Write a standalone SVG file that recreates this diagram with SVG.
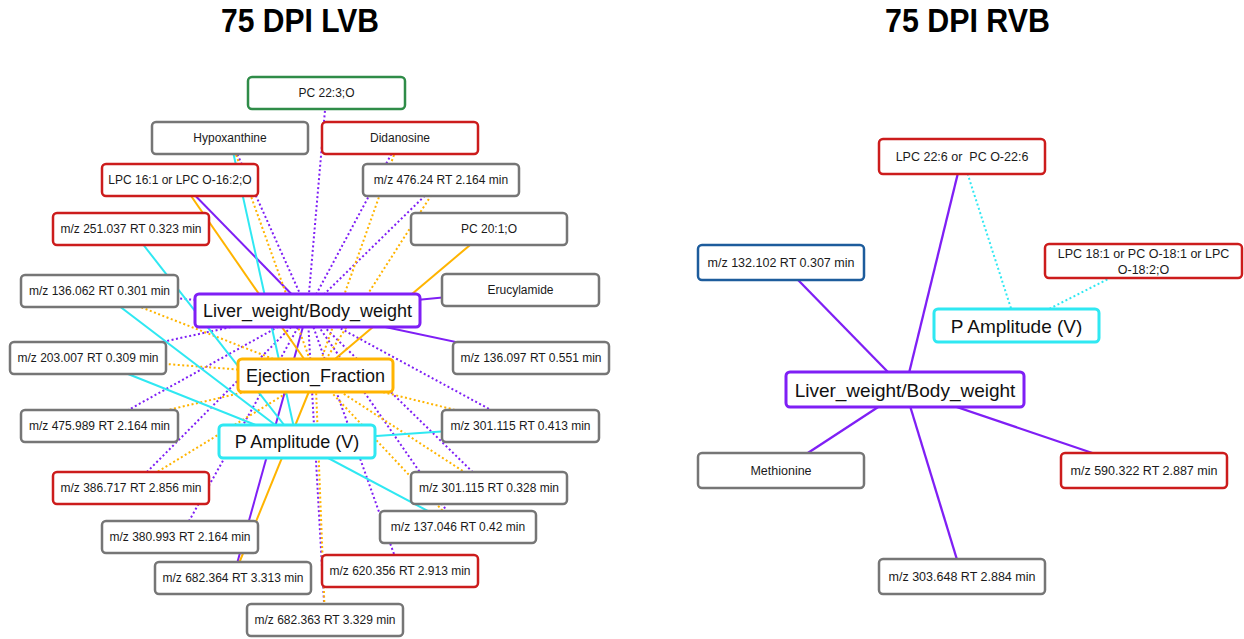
<svg xmlns="http://www.w3.org/2000/svg" width="1244" height="639" viewBox="0 0 1244 639">
<style>
.title{font-family:"Liberation Sans",Arial,sans-serif;font-weight:bold;font-size:33px;fill:#000}
.box{fill:#fff;stroke-width:2.5}
.hub{fill:#fff;stroke-width:3}
.gr{stroke:#767676}
.rd{stroke:#cc1c1c}
.gn{stroke:#2f8c48}
.bl{stroke:#1d5c9c}
.pu{stroke:#7f1ff5}
.or{stroke:#ffb400}
.cy{stroke:#2fe8f2}
.t{font-family:"Liberation Sans",Arial,sans-serif;font-size:12px;fill:#1a1a1a;text-anchor:middle;dominant-baseline:central}
.t2{font-family:"Liberation Sans",Arial,sans-serif;font-size:12.5px;fill:#1a1a1a;text-anchor:middle;dominant-baseline:central}
.ht{font-family:"Liberation Sans",Arial,sans-serif;font-size:18px;fill:#111;text-anchor:middle;dominant-baseline:central}
.ht2{font-family:"Liberation Sans",Arial,sans-serif;font-size:19px;fill:#111;text-anchor:middle;dominant-baseline:central}
.e{fill:none;stroke-width:2}
.d{fill:none;stroke-width:2;stroke-dasharray:2 2.5}
</style>
<text class="title" x="221" y="32" textLength="158" lengthAdjust="spacingAndGlyphs">75 DPI LVB</text>
<text class="title" x="885" y="32" textLength="165" lengthAdjust="spacingAndGlyphs">75 DPI RVB</text>

<g id="connectors">
<g class="pu">
<line class="e" x1="180" y1="180" x2="307.5" y2="310.5"/>
<line class="e" x1="520.5" y1="290" x2="307.5" y2="310.5"/>
<line class="e" x1="531" y1="358" x2="307.5" y2="310.5"/>
<line class="e" x1="233" y1="578" x2="307.5" y2="310.5"/>
<line class="d" x1="326.5" y1="93" x2="307.5" y2="310.5"/>
<line class="d" x1="230" y1="138" x2="307.5" y2="310.5"/>
<line class="d" x1="400" y1="138" x2="307.5" y2="310.5"/>
<line class="d" x1="441" y1="180" x2="307.5" y2="310.5"/>
<line class="d" x1="99.5" y1="291" x2="307.5" y2="310.5"/>
<line class="d" x1="88" y1="358" x2="307.5" y2="310.5"/>
<line class="d" x1="99.5" y1="426" x2="307.5" y2="310.5"/>
<line class="d" x1="520.5" y1="426" x2="307.5" y2="310.5"/>
<line class="d" x1="131" y1="488" x2="307.5" y2="310.5"/>
<line class="d" x1="489" y1="488" x2="307.5" y2="310.5"/>
<line class="d" x1="180" y1="537" x2="307.5" y2="310.5"/>
<line class="d" x1="458" y1="527" x2="307.5" y2="310.5"/>
<line class="d" x1="400" y1="571" x2="307.5" y2="310.5"/>
<line class="d" x1="325" y1="620" x2="307.5" y2="310.5"/>
</g>
<g class="or">
<line class="e" x1="180" y1="180" x2="315.5" y2="375.5"/>
<line class="e" x1="489" y1="229" x2="315.5" y2="375.5"/>
<line class="e" x1="233" y1="578" x2="315.5" y2="375.5"/>
<line class="d" x1="230" y1="138" x2="315.5" y2="375.5"/>
<line class="d" x1="400" y1="138" x2="315.5" y2="375.5"/>
<line class="d" x1="441" y1="180" x2="315.5" y2="375.5"/>
<line class="d" x1="99.5" y1="291" x2="315.5" y2="375.5"/>
<line class="d" x1="88" y1="358" x2="315.5" y2="375.5"/>
<line class="d" x1="99.5" y1="426" x2="315.5" y2="375.5"/>
<line class="d" x1="520.5" y1="426" x2="315.5" y2="375.5"/>
<line class="d" x1="131" y1="488" x2="315.5" y2="375.5"/>
<line class="d" x1="489" y1="488" x2="315.5" y2="375.5"/>
<line class="d" x1="458" y1="527" x2="315.5" y2="375.5"/>
<line class="d" x1="325" y1="620" x2="315.5" y2="375.5"/>
</g>
<g class="cy">
<line class="e" x1="230" y1="138" x2="297" y2="441.5"/>
<line class="e" x1="131" y1="229" x2="297" y2="441.5"/>
<line class="e" x1="99.5" y1="291" x2="297" y2="441.5"/>
<line class="e" x1="88" y1="358" x2="297" y2="441.5"/>
<line class="e" x1="520.5" y1="426" x2="297" y2="441.5"/>
<line class="e" x1="458" y1="527" x2="297" y2="441.5"/>
</g>
<g class="pu">
<line class="e" style="stroke-width:2.3" x1="962" y1="156.5" x2="905" y2="389.5"/>
<line class="e" style="stroke-width:2.3" x1="781" y1="262.5" x2="905" y2="389.5"/>
<line class="e" style="stroke-width:2.3" x1="781" y1="470.5" x2="905" y2="389.5"/>
<line class="e" style="stroke-width:2.3" x1="962" y1="576" x2="905" y2="389.5"/>
<line class="e" style="stroke-width:2.3" x1="1144" y1="470.5" x2="905" y2="389.5"/>
</g>
<g class="cy">
<line class="d" x1="962" y1="156.5" x2="1016.5" y2="325.5"/>
<line class="d" x1="1143.5" y1="261" x2="1016.5" y2="325.5"/>
</g>
</g>

<g id="n-pc223o"><rect class="box gn" x="248" y="77" width="157" height="32" rx="4"/><text class="t" x="326.5" y="93">PC 22:3;O</text></g>
<g id="n-hypoxanthine"><rect class="box gr" x="152" y="122" width="156" height="32" rx="4"/><text class="t" x="230" y="138">Hypoxanthine</text></g>
<g id="n-didanosine"><rect class="box rd" x="322" y="122" width="156" height="32" rx="4"/><text class="t" x="400" y="138">Didanosine</text></g>
<g id="n-lpc161"><rect class="box rd" x="102" y="164" width="156" height="32" rx="4"/><text class="t" x="180" y="180">LPC 16:1 or LPC O-16:2;O</text></g>
<g id="n-476"><rect class="box gr" x="363" y="164" width="156" height="32" rx="4"/><text class="t" x="441" y="180">m/z 476.24 RT 2.164 min</text></g>
<g id="n-251"><rect class="box rd" x="53" y="213" width="156" height="32" rx="4"/><text class="t" x="131" y="229">m/z 251.037 RT 0.323 min</text></g>
<g id="n-pc201o"><rect class="box gr" x="411" y="213" width="156" height="32" rx="4"/><text class="t" x="489" y="229">PC 20:1;O</text></g>
<g id="n-136062"><rect class="box gr" x="21" y="275" width="157" height="32" rx="4"/><text class="t" x="99.5" y="291">m/z 136.062 RT 0.301 min</text></g>
<g id="n-erucylamide"><rect class="box gr" x="442" y="274" width="157" height="32" rx="4"/><text class="t" x="520.5" y="290">Erucylamide</text></g>
<g id="n-203"><rect class="box gr" x="10" y="342" width="156" height="32" rx="4"/><text class="t" x="88" y="358">m/z 203.007 RT 0.309 min</text></g>
<g id="n-136097"><rect class="box gr" x="453" y="342" width="156" height="32" rx="4"/><text class="t" x="531" y="358">m/z 136.097 RT 0.551 min</text></g>
<g id="n-475"><rect class="box gr" x="21" y="410" width="157" height="32" rx="4"/><text class="t" x="99.5" y="426">m/z 475.989 RT 2.164 min</text></g>
<g id="n-301413"><rect class="box gr" x="442" y="410" width="157" height="32" rx="4"/><text class="t" x="520.5" y="426">m/z 301.115 RT 0.413 min</text></g>
<g id="n-386"><rect class="box rd" x="53" y="472" width="156" height="32" rx="4"/><text class="t" x="131" y="488">m/z 386.717 RT 2.856 min</text></g>
<g id="n-301328"><rect class="box gr" x="411" y="472" width="156" height="32" rx="4"/><text class="t" x="489" y="488">m/z 301.115 RT 0.328 min</text></g>
<g id="n-137"><rect class="box gr" x="380" y="511" width="156" height="32" rx="4"/><text class="t" x="458" y="527">m/z 137.046 RT 0.42 min</text></g>
<g id="n-380"><rect class="box gr" x="102" y="521" width="156" height="32" rx="4"/><text class="t" x="180" y="537">m/z 380.993 RT 2.164 min</text></g>
<g id="n-682364"><rect class="box gr" x="155" y="562" width="156" height="32" rx="4"/><text class="t" x="233" y="578">m/z 682.364 RT 3.313 min</text></g>
<g id="n-620"><rect class="box rd" x="322" y="555" width="156" height="32" rx="4"/><text class="t" x="400" y="571">m/z 620.356 RT 2.913 min</text></g>
<g id="n-682363"><rect class="box gr" x="247" y="604" width="156" height="32" rx="4"/><text class="t" x="325" y="620">m/z 682.363 RT 3.329 min</text></g>
<g id="n-liver-l"><rect class="hub pu" x="195" y="294" width="225" height="33" rx="4"/><text class="ht" x="307.5" y="311">Liver_weight/Body_weight</text></g>
<g id="n-ef-l"><rect class="hub or" x="238" y="359" width="155" height="33" rx="4"/><text class="ht" x="315.5" y="376">Ejection_Fraction</text></g>
<g id="n-pamp-l"><rect class="hub cy" x="219" y="425" width="156" height="33" rx="4"/><text class="ht" x="297" y="442">P Amplitude (V)</text></g>

<g id="n-lpc226"><rect class="box rd" x="879" y="139" width="166" height="35" rx="4"/><text class="t2" x="962" y="156.5" xml:space="preserve">LPC 22:6 or  PC O-22:6</text></g>
<g id="n-lpc181"><rect class="box rd" x="1045" y="244" width="197" height="34" rx="4"/><text class="t2" x="1143.5" y="254">LPC 18:1 or PC O-18:1 or LPC</text><text class="t2" x="1143.5" y="270">O-18:2;O</text></g>
<g id="n-132"><rect class="box bl" x="698" y="245" width="166" height="35" rx="4"/><text class="t2" x="781" y="262.5">m/z 132.102 RT 0.307 min</text></g>
<g id="n-methionine"><rect class="box gr" x="698" y="453" width="166" height="35" rx="4"/><text class="t2" x="781" y="470.5">Methionine</text></g>
<g id="n-590"><rect class="box rd" x="1061" y="453" width="166" height="35" rx="4"/><text class="t2" x="1144" y="470.5">m/z 590.322 RT 2.887 min</text></g>
<g id="n-303"><rect class="box gr" x="879" y="559" width="166" height="35" rx="4"/><text class="t2" x="962" y="576.5">m/z 303.648 RT 2.884 min</text></g>
<g id="n-pamp-r"><rect class="hub cy" x="934" y="309" width="165" height="33" rx="4"/><text class="ht2" x="1016.5" y="326">P Amplitude (V)</text></g>
<g id="n-liver-r"><rect class="hub pu" x="786" y="372" width="238" height="35" rx="4"/><text class="ht2" x="905" y="390">Liver_weight/Body_weight</text></g>
</svg>
